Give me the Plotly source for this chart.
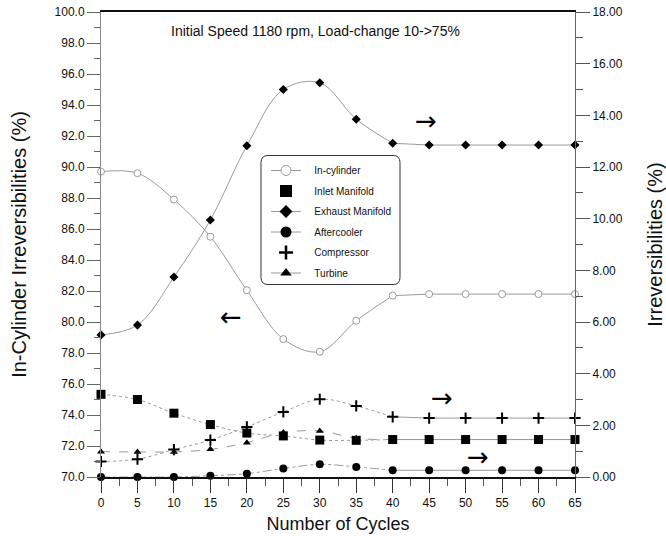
import plotly.graph_objects as go

# ---------------- data ----------------
cycles = [0, 5, 10, 15, 20, 25, 30, 35, 40, 45, 50, 55, 60, 65]
in_cylinder = [89.7, 89.6, 87.9, 85.5, 82.05, 78.9, 78.08, 80.08, 81.7, 81.8, 81.8, 81.8, 81.8, 81.8]
inlet_manifold = [3.20, 3.00, 2.47, 2.03, 1.70, 1.59, 1.43, 1.42, 1.45, 1.45, 1.45, 1.45, 1.45, 1.45]
exhaust_manifold = [5.50, 5.88, 7.74, 9.95, 12.82, 15.00, 15.26, 13.85, 12.92, 12.85, 12.85, 12.85, 12.85, 12.85]
aftercooler = [0.00, 0.00, 0.00, 0.05, 0.13, 0.33, 0.49, 0.39, 0.26, 0.26, 0.26, 0.26, 0.26, 0.26]
compressor = [0.60, 0.69, 1.06, 1.43, 1.94, 2.52, 3.01, 2.75, 2.33, 2.28, 2.28, 2.28, 2.28, 2.28]
turbine = [0.98, 0.97, 0.97, 1.07, 1.33, 1.72, 1.78, 1.50, 1.45, 1.45, 1.45, 1.45, 1.45, 1.45]
steady_idx = 8  # from cycle 40 on the curves are flat

x_ticks = [0, 5, 10, 15, 20, 25, 30, 35, 40, 45, 50, 55, 60, 65]
title_text = "Initial Speed 1180 rpm, Load-change 10->75%"

# ---------------- layout geometry ----------------
W, H = 666, 536
ML, MR, MT, MB = 101, 91, 12, 59
PW, PH = W - ML - MR, H - MT - MB
FONT = "Liberation Sans, Arial, sans-serif"
LINE_GRAY = "#9a9a9a"
PAD = "\u00a0\u00a0\u00a0"


def px(xp, yp):
    return (xp - ML) / PW, (H - MB - yp) / PH


fig = go.Figure()

series = [
    # name, values, axis, dash, symbol, size, fill, edge, edge width, legend line, legend size
    ("In-cylinder", in_cylinder, "y", "solid", "circle", 7, "white", "#9a9a9a", 1, True, 10),
    ("Inlet Manifold", inlet_manifold, "y2", "dot", "square", 9, "black", "black", 0, False, 12),
    ("Exhaust Manifold", exhaust_manifold, "y2", "solid", "diamond", 7, "black", "black", 0, True, 10),
    ("Aftercooler", aftercooler, "y2", "dashdot", "circle", 8, "black", "black", 0, True, 11),
    ("Compressor", compressor, "y2", "dot", "cross-thin", 8, "black", "black", 2, False, 10),
    ("Turbine", turbine, "y2", "dash", "triangle-up", 7, "black", "black", 0, True, 10),
]

# transition lines and steady lines
for name, vals, ax, dash, sym, size, fill, edge, ew, legline, lsize in series:
    fig.add_trace(go.Scatter(
        x=cycles[:steady_idx + 1], y=vals[:steady_idx + 1], yaxis=ax, mode="lines",
        line=dict(color=LINE_GRAY, width=1, dash=dash, shape="spline", smoothing=1),
        showlegend=False, hoverinfo="skip"))
    fig.add_trace(go.Scatter(
        x=cycles[steady_idx:], y=vals[steady_idx:], yaxis=ax, mode="lines",
        line=dict(color=LINE_GRAY, width=1),
        showlegend=False, hoverinfo="skip"))

# markers
for name, vals, ax, dash, sym, size, fill, edge, ew, legline, lsize in series:
    fig.add_trace(go.Scatter(
        x=cycles, y=vals, yaxis=ax, mode="markers", cliponaxis=False,
        marker=dict(symbol=sym, size=size, color=fill, line=dict(color=edge, width=ew)),
        showlegend=False, name=name))

# legend entries
for i, (name, vals, ax, dash, sym, size, fill, edge, ew, legline, lsize) in enumerate(series):
    fig.add_trace(go.Scatter(
        x=[None], y=[None], yaxis=ax, name=PAD + name, legendgroup=f"g{i}",
        mode="lines+markers" if legline else "markers",
        line=dict(color=LINE_GRAY, width=1),
        marker=dict(symbol=sym, size=lsize, color=fill,
                    line=dict(color=edge, width=(2.5 if ew == 2 else ew))),
        showlegend=True))

# rounded legend frame
lx0, ly0 = px(261, 284.5)
lx1, ly1 = px(400, 155.5)
rx, ry = 7 / PW, 7 / PH
path = (f"M {lx0 + rx},{ly1} L {lx1 - rx},{ly1} Q {lx1},{ly1} {lx1},{ly1 - ry} "
        f"L {lx1},{ly0 + ry} Q {lx1},{ly0} {lx1 - rx},{ly0} "
        f"L {lx0 + rx},{ly0} Q {lx0},{ly0} {lx0},{ly0 + ry} "
        f"L {lx0},{ly1 - ry} Q {lx0},{ly1} {lx0 + rx},{ly1} Z")
fig.add_shape(type="path", path=path, xref="paper", yref="paper",
              line=dict(color="#333333", width=1), fillcolor="rgba(255,255,255,0)", layer="above")

annotations = []
tx, ty = px(315, 31)
annotations.append(dict(text=title_text, x=tx, y=ty, xref="paper", yref="paper",
                        xanchor="center", yanchor="middle",
                        showarrow=False, font=dict(family=FONT, size=14, color="#111")))
for ch, xp, yp in [("←", 231, 317), ("→", 426, 121), ("→", 442, 398), ("→", 478, 457)]:
    ax_, ay_ = px(xp, yp)
    annotations.append(dict(text=ch, x=ax_, y=ay_, xref="paper", yref="paper", showarrow=False,
                            xanchor="center", yanchor="middle",
                            font=dict(family="DejaVu Sans", size=26, color="black")))

leg_x, leg_y = px(266, 156)

fig.update_layout(
    width=W, height=H,
    margin=dict(l=ML, r=MR, t=MT, b=MB, autoexpand=False),
    paper_bgcolor="white", plot_bgcolor="white",
    font=dict(family=FONT, size=12, color="#111"),
    showlegend=True,
    legend=dict(x=leg_x, y=leg_y, xanchor="left", yanchor="top",
                bgcolor="rgba(0,0,0,0)", borderwidth=0,
                font=dict(family=FONT, size=10, color="#111"),
                tracegroupgap=1.5),
    annotations=annotations,
    xaxis=dict(range=[0, 65], tickvals=x_ticks, ticktext=[str(v) for v in x_ticks],
               showgrid=False, zeroline=False,
               showline=True, linecolor="#111", linewidth=1.5, mirror=True,
               ticks="outside", ticklen=14, tickcolor="#333", tickwidth=1,
               minor=dict(dtick=2.5, tick0=0, ticks="outside", ticklen=7, tickcolor="#555"),
               tickfont=dict(family=FONT, size=12, color="#111"),
               title=dict(text="Number of Cycles", font=dict(family=FONT, size=18, color="#111"),
                          standoff=8)),
    yaxis=dict(range=[70, 100], dtick=2, tick0=70, tickformat=".1f",
               showgrid=False, zeroline=False,
               showline=True, linecolor="#888", linewidth=1,
               ticks="outside", ticklen=13, tickcolor="#666",
               minor=dict(dtick=1, tick0=70, ticks="outside", ticklen=6, tickcolor="#666"),
               tickfont=dict(family=FONT, size=12, color="#111"),
               title=dict(text="In-Cylinder Irreversibilities (%)",
                          font=dict(family=FONT, size=20, color="#111"), standoff=22)),
    yaxis2=dict(range=[0, 18], dtick=2, tick0=0, tickformat=".2f", overlaying="y", side="right",
                showgrid=False, zeroline=False,
                showline=True, linecolor="#666", linewidth=1,
                ticks="outside", ticklen=14, tickcolor="#555",
                minor=dict(dtick=1, tick0=0, ticks="outside", ticklen=7, tickcolor="#555"),
                tickfont=dict(family=FONT, size=12, color="#111"),
                title=dict(text="Irreversibilities (%)",
                           font=dict(family=FONT, size=20, color="#111"), standoff=26)),
)

fig.write_html("out.html")
